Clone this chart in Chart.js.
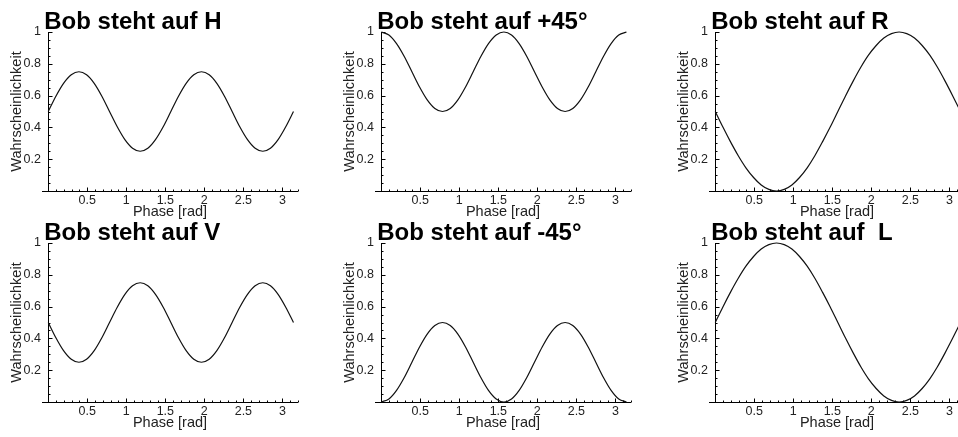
<!DOCTYPE html>
<html>
<head>
<meta charset="utf-8">
<script src="https://cdn.jsdelivr.net/npm/chart.js@4.4.1/dist/chart.umd.min.js"></script>
<style>
  html, body { margin: 0; padding: 0; background: #fff; }
  body { width: 958px; height: 437px; position: relative; overflow: hidden; }
  canvas { position: absolute; }
</style>
</head>
<body>
<canvas id="c_h" width="310" height="226" style="left:0px;top:0px"></canvas>
<canvas id="c_p45" width="310" height="226" style="left:333px;top:0px"></canvas>
<canvas id="c_r" width="310" height="226" style="left:667px;top:0px"></canvas>
<canvas id="c_v" width="310" height="226" style="left:0px;top:211px"></canvas>
<canvas id="c_m45" width="310" height="226" style="left:333px;top:211px"></canvas>
<canvas id="c_l" width="310" height="226" style="left:667px;top:211px"></canvas>
<script>
// phase in rad, 0 .. pi
const phase = [0, 0.098, 0.196, 0.295, 0.393, 0.491, 0.589, 0.687, 0.785, 0.884, 0.982, 1.08, 1.178, 1.276, 1.374, 1.473, 1.571,
               1.669, 1.767, 1.865, 1.963, 2.062, 2.16, 2.258, 2.356, 2.454, 2.553, 2.651, 2.749, 2.847, 2.945, 3.043, 3.142]

// Wahrscheinlichkeit
const probH   = [0.5, 0.596, 0.677, 0.731, 0.75, 0.731, 0.677, 0.596, 0.5, 0.404, 0.323, 0.269, 0.25, 0.269, 0.323, 0.404, 0.5,
                 0.596, 0.677, 0.731, 0.75, 0.731, 0.677, 0.596, 0.5, 0.404, 0.323, 0.269, 0.25, 0.269, 0.323, 0.404, 0.5]
const probP45 = [1, 0.981, 0.927, 0.846, 0.75, 0.654, 0.573, 0.519, 0.5, 0.519, 0.573, 0.654, 0.75, 0.846, 0.927, 0.981, 1,
                 0.981, 0.927, 0.846, 0.75, 0.654, 0.573, 0.519, 0.5, 0.519, 0.573, 0.654, 0.75, 0.846, 0.927, 0.981, 1]
const probR   = [0.5, 0.402, 0.309, 0.222, 0.146, 0.085, 0.038, 0.01, 0, 0.01, 0.038, 0.085, 0.146, 0.222, 0.309, 0.402, 0.5,
                 0.598, 0.691, 0.778, 0.854, 0.915, 0.962, 0.99, 1, 0.99, 0.962, 0.915, 0.854, 0.778, 0.691, 0.598, 0.5]
const probV   = [0.5, 0.404, 0.323, 0.269, 0.25, 0.269, 0.323, 0.404, 0.5, 0.596, 0.677, 0.731, 0.75, 0.731, 0.677, 0.596, 0.5,
                 0.404, 0.323, 0.269, 0.25, 0.269, 0.323, 0.404, 0.5, 0.596, 0.677, 0.731, 0.75, 0.731, 0.677, 0.596, 0.5]
const probM45 = [0, 0.019, 0.073, 0.154, 0.25, 0.346, 0.427, 0.481, 0.5, 0.481, 0.427, 0.346, 0.25, 0.154, 0.073, 0.019, 0,
                 0.019, 0.073, 0.154, 0.25, 0.346, 0.427, 0.481, 0.5, 0.481, 0.427, 0.346, 0.25, 0.154, 0.073, 0.019, 0]
const probL   = [0.5, 0.598, 0.691, 0.778, 0.854, 0.915, 0.962, 0.99, 1, 0.99, 0.962, 0.915, 0.854, 0.778, 0.691, 0.598, 0.5,
                 0.402, 0.309, 0.222, 0.146, 0.085, 0.038, 0.01, 0, 0.01, 0.038, 0.085, 0.146, 0.222, 0.309, 0.402, 0.5]

const panels = [
    {id: 'c_h',   title: 'Bob steht auf H',    values: probH},
    {id: 'c_p45', title: 'Bob steht auf +45°', values: probP45},
    {id: 'c_r',   title: 'Bob steht auf R',    values: probR},
    {id: 'c_v',   title: 'Bob steht auf V',    values: probV},
    {id: 'c_m45', title: 'Bob steht auf -45°', values: probM45},
    {id: 'c_l',   title: 'Bob steht auf  L',   values: probL},
]

const xLabel = 'Phase [rad]'
const yLabel = 'Wahrscheinlichkeit'
const xMajor = 0.5, xMinor = 0.1
const yMajor = 0.2, yMinor = 0.05

const FONT = '"Liberation Sans", Arial, Helvetica, sans-serif'

// mathematica style axes: lines through 0 with small inward ticks
const mmaAxes = {
    id: 'mmaAxes',
    beforeDatasetsDraw(chart) {
        const {ctx, chartArea, scales: {x, y}} = chart
        const x0 = Math.round(x.getPixelForValue(0)) + 0.5
        const y0 = Math.round(y.getPixelForValue(0)) + 0.5
        ctx.save()
        ctx.strokeStyle = '#000'
        ctx.lineWidth = 1
        ctx.beginPath()
        ctx.moveTo(chartArea.left, y0)
        ctx.lineTo(chartArea.right, y0)
        ctx.moveTo(x0, y.getPixelForValue(1))
        ctx.lineTo(x0, y0)
        const nx = Math.floor(x.max / xMinor + 1e-6)
        for (let i = 1; i <= nx; i++) {
            const px = Math.round(x.getPixelForValue(i * xMinor)) + 0.5
            const len = (i % Math.round(xMajor / xMinor) === 0) ? 4 : 2
            ctx.moveTo(px, y0)
            ctx.lineTo(px, y0 - len)
        }
        const ny = Math.round(y.max / yMinor)
        for (let i = 1; i <= ny; i++) {
            const py = Math.round(y.getPixelForValue(i * yMinor)) + 0.5
            const len = (i % Math.round(yMajor / yMinor) === 0) ? 4 : 2
            ctx.moveTo(x0, py)
            ctx.lineTo(x0 + len, py)
        }
        ctx.stroke()
        ctx.restore()
    }
}

// bold title sitting over the top of the y axis
const panelTitle = {
    id: 'panelTitle',
    afterDraw(chart, args, opts) {
        const {ctx, chartArea, scales: {x}} = chart
        ctx.save()
        ctx.font = 'bold 24px ' + FONT
        ctx.fillStyle = '#000'
        ctx.textBaseline = 'alphabetic'
        ctx.textAlign = 'left'
        ctx.fillText(opts.text, x.getPixelForValue(0) - 4, chartArea.top - 3.5)
        ctx.restore()
    }
}

function make_panel(p) {
    const el = document.getElementById(p.id)
    return new Chart(el, {
        type: 'line',
        data: {
            labels: phase,
            datasets: [{
                data: phase.map((v, i) => ({x: v, y: p.values[i]})),
                borderColor: '#111',
                borderWidth: 1.2,
                pointRadius: 0,
                cubicInterpolationMode: 'monotone',
                fill: false,
                clip: false,
            }]
        },
        options: {
            responsive: false,
            animation: false,
            devicePixelRatio: 1,
            layout: { padding: {top: 32, left: 0, right: 12, bottom: 5} },
            scales: {
                x: {
                    type: 'linear',
                    min: -0.08,
                    max: 3.2,
                    grid: { display: false, drawTicks: false },
                    border: { display: false },
                    ticks: {
                        stepSize: xMajor,
                        includeBounds: false,
                        autoSkip: false,
                        maxRotation: 0,
                        padding: 2,
                        color: '#222',
                        font: { family: FONT, size: 12.5 },
                        callback: v => v === 0 ? '' : String(+v.toFixed(2)),
                    },
                    title: {
                        display: true,
                        text: xLabel,
                        color: '#222',
                        font: { family: FONT, size: 14.5 },
                        padding: { top: 0, bottom: 0 },
                    },
                    afterFit: s => { s.height = 30 },
                },
                y: {
                    min: 0,
                    max: 1,
                    grid: { display: false, drawTicks: false },
                    border: { display: false },
                    ticks: {
                        stepSize: yMajor,
                        includeBounds: false,
                        padding: 1,
                        color: '#222',
                        font: { family: FONT, size: 12.5 },
                        callback: v => v === 0 ? '' : String(+v.toFixed(2)),
                    },
                    title: {
                        display: true,
                        text: yLabel,
                        color: '#222',
                        font: { family: FONT, size: 14.5 },
                        padding: { top: 8.6, bottom: 0 },
                    },
                    afterFit: s => { s.width = 42 },
                },
            },
            plugins: {
                legend: { display: false },
                tooltip: { enabled: false },
                panelTitle: { text: p.title },
            }
        },
        plugins: [mmaAxes, panelTitle]
    })
}

panels.forEach(make_panel)
</script>
</body>
</html>
